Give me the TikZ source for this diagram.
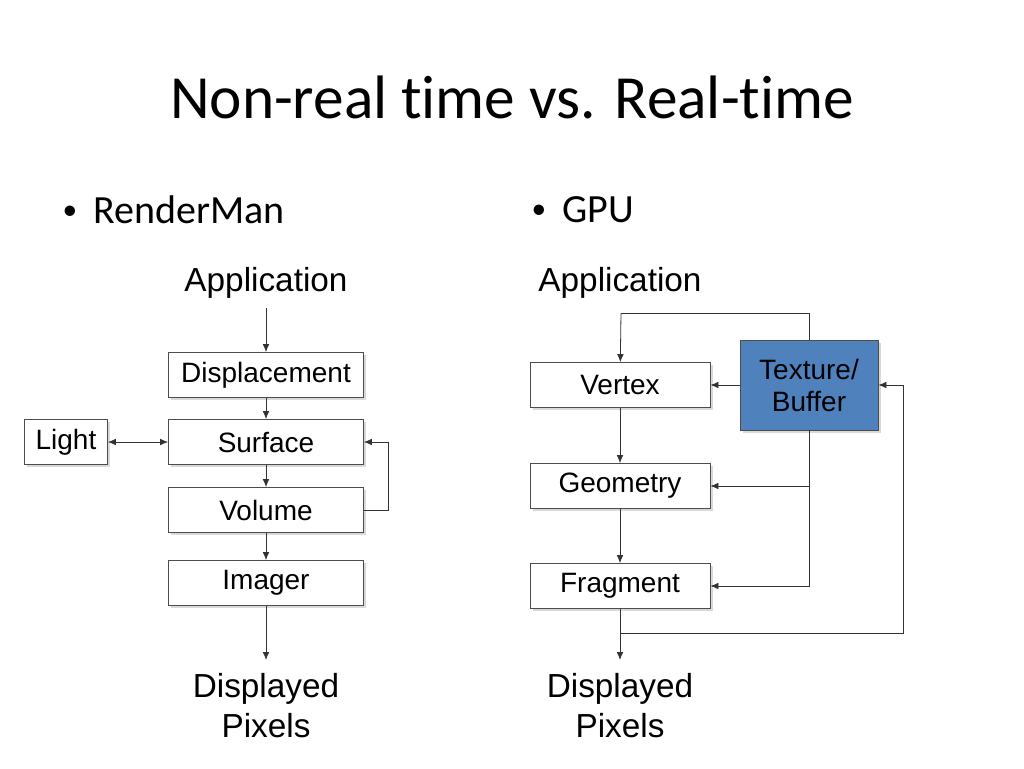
\documentclass[tikz,border=0pt]{standalone}
\usepackage{fontspec}
\setmainfont[Ligatures={NoCommon,NoContextual}]{Carlito}
\newfontfamily\arial{Liberation Sans}
\usetikzlibrary{shadows,arrows.meta}
\definecolor{texblue}{HTML}{4F81BD}
\begin{document}
\begin{tikzpicture}[x=0.75pt,y=-0.75pt,
  box/.style={draw=black!70,fill=white,line width=0.6pt,minimum height=33.75pt,inner sep=0pt,
    font=\arial\fontsize{21}{24}\selectfont,drop shadow={shadow xshift=2pt,shadow yshift=-2pt,opacity=0.3}},
  wide/.style={box,minimum width=146.25pt},
  gpu/.style={box,minimum width=135pt},
  lab/.style={font=\arial\fontsize{25}{30}\selectfont,align=center},
  conn/.style={draw=black!80,line width=0.6pt,-{Latex[length=6pt,width=5pt]}},
  ln/.style={draw=black!80,line width=0.6pt}]
\useasboundingbox (0,0) rectangle (1024,768);
\node (title) at (512,97) {\fontsize{46}{52}\selectfont Non-real time vs. Real-time};
\node[anchor=west] (b1) at (58,210) {\fontsize{30}{34}\selectfont \raisebox{3pt}{\fontsize{22}{24}\selectfont •}\hspace{12pt}RenderMan};
\node[anchor=west] (b2) at (527,210) {\fontsize{30}{34}\selectfont \raisebox{3pt}{\fontsize{22}{24}\selectfont •}\hspace{12pt}GPU};
% left
\node[lab] (appL) at (266,283) {Application};
\node[wide] (disp) at (266,375) {Displacement};
\node[box,minimum width=62.25pt] (light) at (66,442) {Light};
\node[wide] (surf) at (266,442) {Surface};
\node[wide] (vol) at (266,510) {Volume};
\node[wide] (img) at (266,583) {Imager};
\node[lab] (dispL) at (266,706) {Displayed\\Pixels};
\coordinate (aL) at (266,308);
\coordinate (eL) at (266,660);
\draw[conn] (aL) -- (disp);
\draw[conn] (disp) -- (surf);
\draw[conn] (surf) -- (vol);
\draw[conn] (vol) -- (img);
\draw[conn] (img) -- (eL);
\draw[conn,{Latex[length=6pt,width=5pt]}-{Latex[length=6pt,width=5pt]}] (light) -- (surf);
\draw[conn] (vol.east) -- ++(24,0) |- (surf.east);
% right
\node[lab] (appR) at (620,283) {Application};
\node[gpu] (vert) at (620,385) {Vertex};
\node[gpu] (geom) at (620,486) {Geometry};
\node[gpu] (frag) at (620,586) {Fragment};
\node[box,fill=texblue,minimum width=103.5pt,minimum height=67.5pt,align=center] (tex) at (809,385) {Texture/\\Buffer};
\node[lab] (dispR) at (620,706) {Displayed\\Pixels};
\coordinate (aR) at (621,313);
\coordinate (eR) at (620,660);
\coordinate (split) at (620,633);
\draw[conn] (aR) -- (vert);
\draw[ln] (aR) -| (tex.north);
\draw[conn] (tex) -- (vert);
\draw[conn] (vert) -- (geom);
\draw[conn] (geom) -- (frag);
\draw[conn] (tex.south) |- (geom.east);
\draw[conn] (tex.south) |- (frag.east);
\draw[conn] (frag) -- (eR);
\draw[conn] (split) -| (903,385) -- (tex.east);
\end{tikzpicture}
\end{document}
